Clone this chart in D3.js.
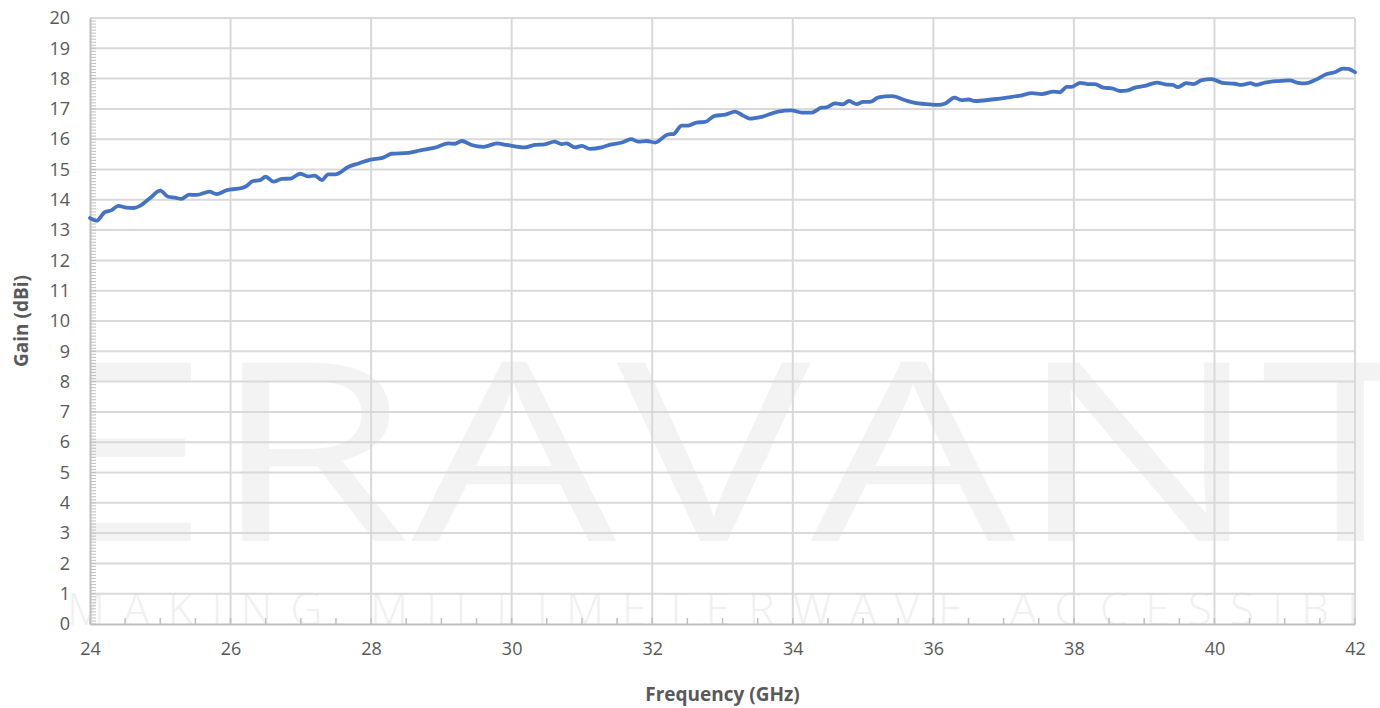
<!DOCTYPE html>
<html>
<head>
<meta charset="utf-8">
<script src="https://cdn.jsdelivr.net/npm/d3@7"></script>
<style>
  body { margin: 0; background: #fff; }
  svg { display: block; font-family: "Open Sans", "Noto Sans", sans-serif; }
</style>
</head>
<body>
<svg id="chart" width="1380" height="708"></svg>
<script>
// gain curve
let freq_ghz = [24.00, 24.09, 24.21, 24.31, 24.40, 24.52, 24.62, 24.71, 24.85, 25.00,
  25.11, 25.21, 25.30, 25.41, 25.52, 25.70, 25.80, 25.95, 26.11, 26.21,
  26.32, 26.42, 26.50, 26.61, 26.73, 26.85, 26.99, 27.11, 27.20, 27.30,
  27.39, 27.49, 27.68, 27.82, 27.98, 28.17, 28.29, 28.53, 28.70, 28.91,
  29.10, 29.19, 29.29, 29.43, 29.60, 29.79, 29.93, 30.19, 30.33, 30.47,
  30.61, 30.71, 30.78, 30.90, 31.00, 31.11, 31.28, 31.42, 31.57, 31.70,
  31.80, 31.92, 32.04, 32.23, 32.30, 32.42, 32.51, 32.63, 32.75, 32.89,
  33.04, 33.18, 33.30, 33.39, 33.56, 33.79, 33.98, 34.13, 34.27, 34.41,
  34.48, 34.60, 34.71, 34.80, 34.91, 35.00, 35.10, 35.22, 35.41, 35.62,
  35.79, 35.95, 36.07, 36.17, 36.30, 36.40, 36.50, 36.59, 36.83, 37.07,
  37.26, 37.40, 37.54, 37.71, 37.80, 37.90, 37.97, 38.09, 38.20, 38.30,
  38.42, 38.54, 38.66, 38.75, 38.87, 39.01, 39.18, 39.30, 39.41, 39.48,
  39.60, 39.70, 39.82, 39.96, 40.11, 40.29, 40.39, 40.51, 40.59, 40.72,
  40.91, 41.07, 41.19, 41.29, 41.43, 41.60, 41.71, 41.83, 41.90, 42.00]
let gain_dbi = [13.40, 13.31, 13.59, 13.66, 13.80, 13.74, 13.73, 13.80, 14.05, 14.30,
  14.10, 14.07, 14.03, 14.17, 14.16, 14.27, 14.19, 14.32, 14.37, 14.43,
  14.62, 14.65, 14.76, 14.60, 14.69, 14.70, 14.86, 14.77, 14.80, 14.65,
  14.84, 14.84, 15.09, 15.20, 15.32, 15.39, 15.52, 15.55, 15.63, 15.72,
  15.86, 15.85, 15.94, 15.81, 15.75, 15.86, 15.81, 15.73, 15.81, 15.83,
  15.92, 15.84, 15.86, 15.73, 15.78, 15.68, 15.73, 15.83, 15.89, 16.00,
  15.92, 15.94, 15.89, 16.16, 16.17, 16.45, 16.45, 16.55, 16.57, 16.77,
  16.81, 16.91, 16.77, 16.68, 16.74, 16.91, 16.95, 16.88, 16.88, 17.04,
  17.05, 17.18, 17.15, 17.26, 17.16, 17.23, 17.23, 17.38, 17.42, 17.27,
  17.18, 17.15, 17.13, 17.18, 17.37, 17.29, 17.31, 17.26, 17.31, 17.38,
  17.45, 17.52, 17.49, 17.57, 17.55, 17.73, 17.73, 17.86, 17.82, 17.82,
  17.70, 17.68, 17.59, 17.60, 17.70, 17.76, 17.87, 17.81, 17.79, 17.72,
  17.85, 17.82, 17.95, 17.98, 17.86, 17.83, 17.79, 17.85, 17.79, 17.87,
  17.92, 17.94, 17.86, 17.84, 17.95, 18.15, 18.21, 18.33, 18.32, 18.21]

let x_ticks = [24, 26, 28, 30, 32, 34, 36, 38, 40, 42]
let y_ticks = [0, 1, 2, 3, 4, 5, 6, 7, 8, 9, 10, 11, 12, 13, 14, 15, 16, 17, 18, 19, 20]

let x_title = "Frequency (GHz)"
let y_title = "Gain (dBi)"

let w_chart = 1380
let h_chart = 708
let margin = {left: 90, right: 25, top: 18, bottom: 84}

let svg = d3.select("#chart")

let x = d3.scaleLinear()
          .domain([24, 42])
          .range([margin.left, w_chart - margin.right])
let y = d3.scaleLinear()
          .domain([0, 20])
          .range([h_chart - margin.bottom, margin.top])

// watermark, behind everything
let defs = svg.append("defs")
defs.append("clipPath")
    .attr("id", "clip-mark")
    .append("rect")
    .attr("x", 90)
    .attr("y", 0)
    .attr("width", w_chart - 90)
    .attr("height", y(0) + 2)
defs.append("clipPath")
    .attr("id", "clip-tag")
    .append("rect")
    .attr("x", 64)
    .attr("y", 580)
    .attr("width", x(42) - 64)
    .attr("height", y(0) - 578)

svg.append("text")
   .attr("clip-path", "url(#clip-mark)")
   .attr("x", 30)
   .attr("y", 541)
   .attr("textLength", 1410)
   .attr("lengthAdjust", "spacingAndGlyphs")
   .style("font-size", "250px")
   .style("font-weight", 500)
   .style("fill", "#f3f3f3")
   .text("ERAVANT")
svg.append("text")
   .attr("clip-path", "url(#clip-tag)")
   .attr("x", 67)
   .attr("y", 625)
   .attr("textLength", 1345)
   .attr("lengthAdjust", "spacing")
   .style("font-size", "44px")
   .style("font-weight", 300)
   .style("fill", "#f0f0f0")
   .text("MAKING MILLIMETERWAVE ACCESSIBLE")

// gridlines
svg.append("g")
   .selectAll("line")
   .data(y_ticks.filter(d => d > 0))
   .join("line")
   .attr("x1", x(24))
   .attr("x2", x(42))
   .attr("y1", d => y(d))
   .attr("y2", d => y(d))
   .attr("stroke", "#d9d9d9")
   .attr("stroke-width", 2)

svg.append("g")
   .selectAll("line")
   .data(x_ticks.filter(d => d > 24))
   .join("line")
   .attr("x1", d => x(d))
   .attr("x2", d => x(d))
   .attr("y1", y(0))
   .attr("y2", y(20))
   .attr("stroke", "#d9d9d9")
   .attr("stroke-width", 2)

// minor ticks, pointing into the plot
svg.append("g")
   .selectAll("line")
   .data(d3.range(0, 200).map(i => i / 10))
   .join("line")
   .attr("x1", x(24))
   .attr("x2", x(24) + 6)
   .attr("y1", d => y(d))
   .attr("y2", d => y(d))
   .attr("stroke", "#bfbfbf")
   .attr("stroke-width", 1)

svg.append("g")
   .selectAll("line")
   .data(d3.range(48, 85).map(i => i / 2))
   .join("line")
   .attr("x1", d => x(d))
   .attr("x2", d => x(d))
   .attr("y1", y(0))
   .attr("y2", y(0) - 6)
   .attr("stroke", "#bfbfbf")
   .attr("stroke-width", 1.5)

// axes
let x_axis = svg.append("g")
                .attr("transform", "translate(0," + y(0) + ")")
                .call(d3.axisBottom(x).tickValues(x_ticks).tickSize(0).tickPadding(18))
let y_axis = svg.append("g")
                .attr("transform", "translate(" + x(24) + ",0)")
                .call(d3.axisLeft(y).tickValues(y_ticks).tickSize(0).tickPadding(20))

x_axis.select(".domain").attr("stroke", "#bfbfbf").attr("stroke-width", 2)
y_axis.select(".domain").attr("stroke", "#bfbfbf").attr("stroke-width", 2)
svg.selectAll(".tick text")
   .style("font-family", "'Open Sans', sans-serif")
   .style("font-size", "18px")
   .style("fill", "#595959")

// series
let line = d3.line()
             .x((d, i) => x(freq_ghz[i]))
             .y(d => y(d))
             .curve(d3.curveMonotoneX)

svg.append("path")
   .datum(gain_dbi)
   .attr("d", line)
   .attr("fill", "none")
   .attr("stroke", "#4472c4")
   .attr("stroke-width", 3.8)
   .attr("stroke-linejoin", "round")
   .attr("stroke-linecap", "round")

// axis titles
svg.append("text")
   .attr("x", (x(24) + x(42)) / 2)
   .attr("y", 701)
   .attr("text-anchor", "middle")
   .style("font-size", "19px")
   .style("font-weight", "bold")
   .style("fill", "#595959")
   .text(x_title)

svg.append("text")
   .attr("transform", "translate(28," + ((y(0) + y(20)) / 2) + ") rotate(-90)")
   .attr("text-anchor", "middle")
   .style("font-size", "19px")
   .style("font-weight", "bold")
   .style("fill", "#595959")
   .text(y_title)
</script>
</body>
</html>
